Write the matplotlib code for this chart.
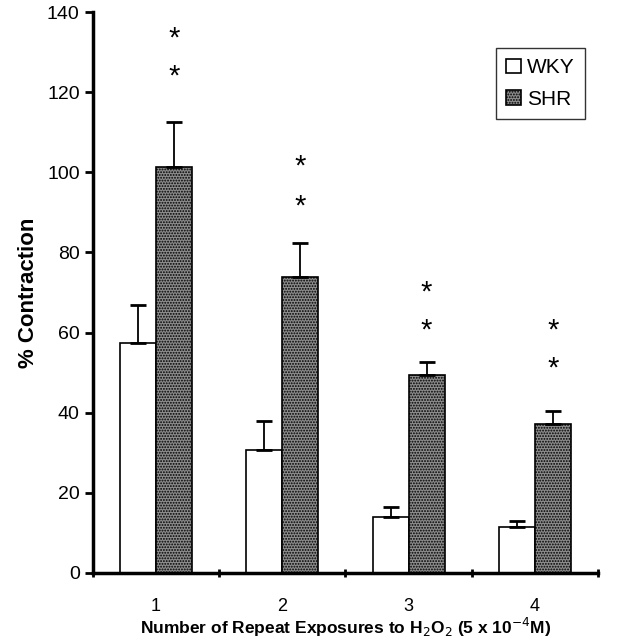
import matplotlib.pyplot as plt
import numpy as np

plt.rcParams['font.family'] = ['Liberation Sans', 'DejaVu Sans']
plt.rcParams['hatch.linewidth'] = 0.9

exposures = ['1', '2', '3', '4']
wky = [57.4, 30.7, 14.0, 11.5]
wky_err = [9.5, 7.2, 2.5, 1.5]
shr = [101.4, 73.9, 49.4, 37.2]
shr_err = [11.1, 8.5, 3.3, 3.2]
# y positions of the two asterisks above each SHR bar
star_y = [[124, 133.5], [91.5, 101.5], [60.5, 70], [51, 60.5]]

x = np.arange(len(exposures))
w = 0.285

fig = plt.figure(figsize=(6.19, 6.4), dpi=100)
ax = fig.add_axes([0.150, 0.105, 0.816, 0.876])

ax.bar(x - w/2, wky, w, color='white', edgecolor='black', linewidth=1.2, label='WKY')
ax.bar(x + w/2, shr, w, color='#8c8c8c', edgecolor='black', linewidth=1.2,
       hatch='......', label='SHR')
ax.errorbar(x - w/2, wky, yerr=[np.zeros(4), wky_err], fmt='none', ecolor='black',
            elinewidth=1.3, capsize=6, capthick=2)
ax.errorbar(x + w/2, shr, yerr=[np.zeros(4), shr_err], fmt='none', ecolor='black',
            elinewidth=1.3, capsize=6, capthick=2)

for i, ys in enumerate(star_y):
    for yy in ys:
        ax.text(x[i] + w/2, yy, '*', ha='center', va='center', fontsize=21)

ax.set_xlim(-0.5, 3.5)
ax.set_ylim(0, 140)
ax.set_yticks(range(0, 141, 20))
ax.set_xticks(x)
ax.set_xticklabels(exposures)
ax.set_xticks(np.arange(-0.5, 3.6, 1), minor=True)
ax.tick_params(axis='x', which='major', length=0, labelsize=13, pad=18)
ax.tick_params(axis='x', which='minor', length=6, width=2, direction='inout')
ax.tick_params(axis='y', labelsize=14, length=6, width=2)
for s in ['top', 'right']:
    ax.spines[s].set_visible(False)
ax.spines['left'].set_linewidth(2.5)
ax.spines['bottom'].set_linewidth(2.5)

ax.set_ylabel('% Contraction', fontsize=16, fontweight='bold', labelpad=6)
ax.set_xlabel(r'Number of Repeat Exposures to H$_2$O$_2$ (5 x 10$^{-4}$M)',
              fontsize=12.5, fontweight='bold', labelpad=1)
ax.legend(loc='upper right', bbox_to_anchor=(0.995, 0.955), fontsize=15, fancybox=False,
          edgecolor='black', handlelength=0.7, handleheight=0.7, handletextpad=0.3,
          borderpad=0.5, labelspacing=0.6)

fig.savefig('out.png', dpi=100)
